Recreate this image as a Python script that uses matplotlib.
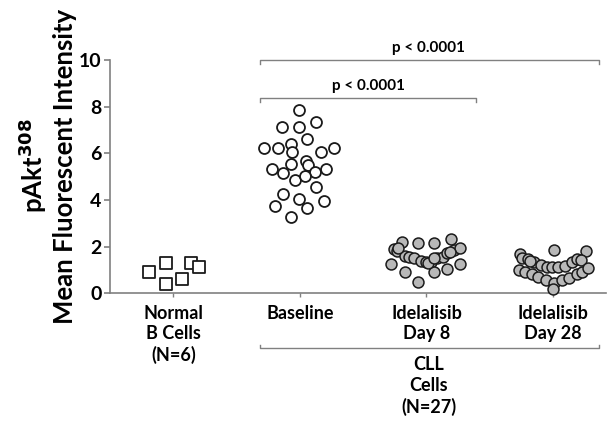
import matplotlib.pyplot as plt

plt.rcParams['font.family'] = ['Lato', 'DejaVu Sans']
plt.rcParams['font.weight'] = 'bold'

# Groups
groups = ['Normal\nB Cells\n(N=6)', 'Baseline', 'Idelalisib\nDay 8', 'Idelalisib\nDay 28']

# Values (mean fluorescent intensity)
normal = [0.91, 1.30, 0.40, 0.61, 1.30, 1.13]
normal_dx = [-0.19, -0.055, -0.055, 0.071, 0.142, 0.205]

baseline = [7.84, 7.15, 7.15, 7.35, 6.62, 6.22, 6.22, 6.41, 6.05, 6.05, 6.22, 5.55, 5.68, 5.33,
            5.15, 5.48, 5.33, 5.22, 4.86, 5.03, 4.55, 4.26, 4.05, 3.96, 3.76, 3.65, 3.26]
baseline_dx = [-0.01, -0.14, -0.01, 0.124, 0.058, -0.284, -0.171, -0.073, -0.061, 0.163, 0.271,
               -0.073, 0.05, -0.219, -0.132, 0.066, 0.208, 0.118, -0.039, 0.039, 0.124, -0.134,
               -0.008, 0.189, -0.197, 0.058, -0.073]

day8 = [2.33, 2.19, 2.14, 2.14, 1.90, 1.82, 1.86, 1.93, 1.61, 1.57, 1.50, 1.39, 1.33, 1.36,
        1.53, 1.57, 1.72, 1.24, 1.24, 1.03, 0.93, 0.93, 0.50, 1.29, 1.50, 1.79, 1.93]
day8_dx = [0.195, -0.192, -0.069, 0.063, -0.258, -0.231, 0.221, 0.268, -0.168, -0.134, -0.1,
           -0.042, -0.002, 0.037, 0.084, 0.129, 0.163, -0.284, 0.268, 0.163, -0.168, 0.058,
           -0.069, 0.01, 0.063, 0.189, -0.227]

day28 = [1.86, 1.67, 1.82, 1.53, 1.47, 1.36, 1.21, 1.12, 1.12, 1.12, 1.18, 1.33, 1.47, 1.43,
         1.00, 0.90, 0.82, 0.71, 0.57, 0.45, 0.18, 0.57, 0.67, 0.82, 0.90, 1.07, 1.39]
day28_dx = [0.01, -0.26, 0.258, -0.242, -0.2, -0.148, -0.095, -0.05, -0.01, 0.042, 0.095,
            0.148, 0.187, 0.221, -0.268, -0.221, -0.168, -0.116, -0.058, 0.01, 0.0, 0.069,
            0.126, 0.187, 0.231, 0.274, -0.182]

fig = plt.figure(figsize=(6.08, 4.21), dpi=100)
ax = fig.add_axes([0.181, 0.3033, 0.816, 0.554])

spine_col = '#808080'
ms = 62

ax.scatter([1 + d for d in normal_dx], normal, marker='s', s=70, facecolor='white',
           edgecolor='#1a1a1a', linewidth=1.3, zorder=3)
ax.scatter([2 + d for d in baseline_dx], baseline, marker='o', s=ms, facecolor='white',
           edgecolor='#1a1a1a', linewidth=1.3, zorder=3)
ax.scatter([3 + d for d in day8_dx], day8, marker='o', s=ms, facecolor='#b8b8b8',
           edgecolor='#1a1a1a', linewidth=1.1, zorder=3)
ax.scatter([4 + d for d in day28_dx], day28, marker='o', s=ms, facecolor='#b8b8b8',
           edgecolor='#1a1a1a', linewidth=1.1, zorder=3, clip_on=False)

ax.set_xlim(0.5, 4.42)
ax.set_ylim(0, 10)
ax.set_yticks([0, 2, 4, 6, 8, 10])
ax.set_xticks([1, 2, 3, 4])
ax.set_xticklabels([])
for s in ['top', 'right']:
    ax.spines[s].set_visible(False)
for s in ['left', 'bottom']:
    ax.spines[s].set_color(spine_col)
    ax.spines[s].set_linewidth(1.2)
ax.tick_params(axis='y', length=4, width=1.2, color=spine_col, labelsize=14, pad=2)
ax.tick_params(axis='x', length=3, width=1.0, color=spine_col)

# category labels
for i, g in enumerate(groups):
    ax.text(i + 1, -0.5, g, ha='center', va='top', fontsize=13, fontweight='bold',
            linespacing=1.25, clip_on=False)

# CLL bracket
ax.plot([1.684, 1.684, 4.363, 4.363], [-2.22, -2.35, -2.35, -2.22], color=spine_col,
        lw=1.0, clip_on=False)
ax.text(3.02, -2.7, 'CLL\nCells\n(N=27)', ha='center', va='top', fontsize=13,
        fontweight='bold', linespacing=1.25, clip_on=False)

# significance brackets
ax.plot([1.684, 1.684, 4.363, 4.363], [9.85, 10.0, 10.0, 9.85], color=spine_col,
        lw=1.0, clip_on=False)
ax.text(3.02, 10.2, 'p < 0.0001', ha='center', va='bottom', fontsize=11,
        fontweight='bold', clip_on=False)
ax.plot([1.684, 1.684, 3.395, 3.395], [8.22, 8.37, 8.37, 8.22], color=spine_col,
        lw=1.0, clip_on=False)
ax.text(2.54, 8.57, 'p < 0.0001', ha='center', va='bottom', fontsize=11,
        fontweight='bold', clip_on=False)

# y labels
fig.text(65 / 608, 1 - 166 / 421, 'Mean Fluorescent Intensity', rotation=90, ha='center',
         va='center', fontsize=18.5, fontweight='bold')
fig.text(33 / 608, 1 - 166 / 421, r'pAkt$^{\mathbf{308}}$', rotation=90, ha='center',
         va='center', fontsize=18.5, fontweight='bold')

fig.savefig('out.png', dpi=100)
